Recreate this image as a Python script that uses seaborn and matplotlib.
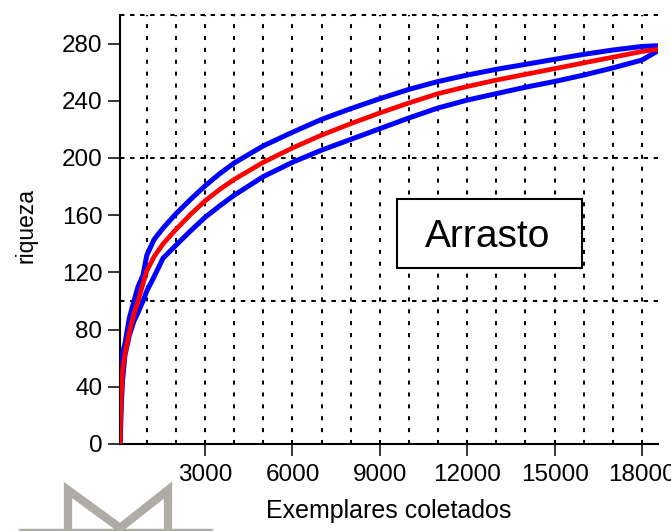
import matplotlib
matplotlib.use("Agg")
import matplotlib.pyplot as plt
from matplotlib.lines import Line2D
from matplotlib.patches import Rectangle
import seaborn as sns
import pandas as pd

# ---- data ----
exemplares = [80, 100, 130, 170, 250, 400, 560, 700, 870, 1000, 1250, 1560, 2000, 2500,
              3000, 3500, 4000, 5000, 6000, 7000, 8000, 9000, 10000, 11000, 12000, 13000,
              14000, 15000, 16000, 17000, 18000, 18550]
riqueza_media = [0, 18, 38, 52, 63, 78, 91, 100, 112, 121, 131, 140, 150, 160.5,
                 170, 178, 185, 197, 207, 216, 224, 231.5, 238.5, 245, 250, 254.5,
                 258.5, 262.5, 266.5, 270.5, 274.5, 276]
riqueza_sup = [0, 30, 56, 64, 70, 88, 100, 110, 118, 132, 143, 151, 161, 171,
               180.5, 189, 196.5, 208.5, 218, 227, 234.5, 241.5, 248, 253.5, 258, 262,
               265.5, 269, 272.5, 275.5, 278, 278.5]
riqueza_inf = [0, 10, 30, 45, 62, 76, 86, 92, 100, 107, 117, 130, 139, 149,
               158.5, 166.5, 174, 187, 197, 205.5, 213, 220.5, 228, 235, 240.5, 245,
               249.5, 253.5, 258, 263, 268.5, 275]
x_ticks = [3000, 6000, 9000, 12000, 15000, 18000]
y_ticks = [0, 40, 80, 120, 160, 200, 240, 280]
x_grid = list(range(1000, 19000, 1000))
y_grid = [100, 200, 300]
titulo = "Arrasto"

sns.set_theme(style="white")
plt.rcParams['font.family'] = ['Liberation Sans', 'DejaVu Sans']

df = pd.DataFrame({"x": exemplares, "media": riqueza_media,
                   "sup": riqueza_sup, "inf": riqueza_inf})

fig = plt.figure(figsize=(6.71, 5.31), dpi=100)
ax = fig.add_axes([120/671, 1 - 444/531, 538/671, 429/531])

ax.set_xlim(80, 18550)
ax.set_ylim(0, 300)

# grid
for gx in x_grid:
    ax.axvline(gx, color="black", lw=1.45, linestyle=(0, (2.0, 3.9)), zorder=1)
for gy in y_grid:
    ax.axhline(gy, color="black", lw=1.45, linestyle=(0, (2.2, 2.8)), zorder=1, clip_on=False)

# label box
ax.add_patch(Rectangle((0.515, 0.410), 0.344, 0.161, transform=ax.transAxes,
                       facecolor="white", edgecolor="black", lw=1.5, zorder=2))
ax.text(0.684, 0.459, titulo, transform=ax.transAxes, ha="center", va="baseline",
        fontsize=28, color="black", zorder=3)

sns.lineplot(data=df, x="x", y="sup", ax=ax, color="#0000ff", lw=3.6, zorder=4, sort=False)
sns.lineplot(data=df, x="x", y="inf", ax=ax, color="#0000ff", lw=3.6, zorder=4, sort=False)
sns.lineplot(data=df, x="x", y="media", ax=ax, color="#ff0000", lw=3.4, zorder=5, sort=False)

ax.set_xticks(x_ticks)
ax.set_xticklabels([str(v) for v in x_ticks])
ax.set_yticks(y_ticks)
ax.set_yticklabels([str(v) for v in y_ticks])
ax.tick_params(axis="both", direction="out", length=8.6, width=1.1, color="black",
               labelsize=17.5, labelcolor="black")
ax.tick_params(axis="x", pad=6)
ax.tick_params(axis="y", pad=4)
ax.tick_params(left=True, bottom=True)

for s in ["top", "right"]:
    ax.spines[s].set_visible(False)
for s in ["left", "bottom"]:
    ax.spines[s].set_color("black")
    ax.spines[s].set_linewidth(1.5)

ax.set_xlabel("Exemplares coletados", fontsize=18, color="black")
ax.set_ylabel("riqueza", fontsize=16.5, color="black")
ax.xaxis.set_label_coords(0.5, -0.128)
ax.yaxis.set_label_coords(-0.154, 0.51)

# grey logo fragment at bottom-left
def fx(px):
    return px / 671
def fy(py):
    return 1 - py / 531
grey = "#aeaca4"
fig.add_artist(Line2D([fx(20), fx(211)], [fy(529.5), fy(529.5)], color=grey, lw=2.5,
                      transform=fig.transFigure))
fig.add_artist(Line2D([fx(68), fx(68), fx(120), fx(168), fx(168)],
                      [fy(535), fy(490), fy(528), fy(490), fy(535)],
                      color=grey, lw=6, solid_joinstyle="miter",
                      transform=fig.transFigure))

fig.savefig("out.png", dpi=100)
